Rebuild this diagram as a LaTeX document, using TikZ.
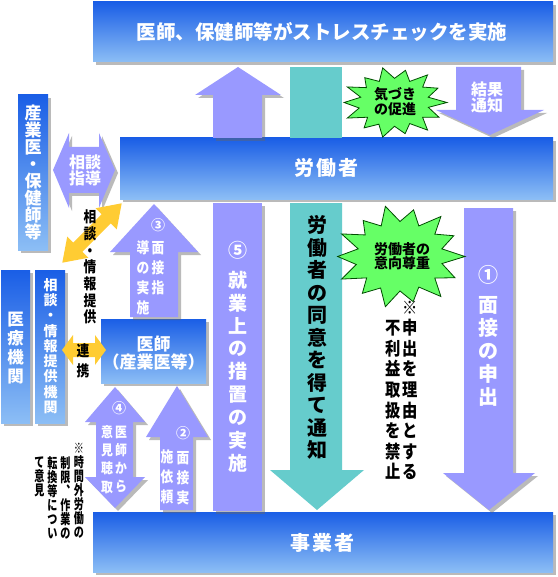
\documentclass[tikz,border=0pt]{standalone}
\usepackage{fontspec}
\newfontfamily\jp{Noto Sans CJK JP}
\newfontfamily\jpn{Noto Sans CJK JP}[FakeStretch=0.85]
\newfontfamily\jpc{Noto Sans CJK JP}[FakeStretch=0.72]
\usetikzlibrary{shadows}
\definecolor{barTop}{HTML}{1A5EE6}
\definecolor{barBot}{HTML}{8CBEF5}
\definecolor{lav}{HTML}{9999FF}
\definecolor{tealx}{HTML}{66CCCC}
\definecolor{burstG}{HTML}{66FF66}
\definecolor{amber}{HTML}{FFCC33}
\newcommand\fsz[2]{\fontsize{#1}{#2}\selectfont}
% vertical block arrow polygon: style, shaft left, shaft right, head left, head right, tip y, head base y, tail y
\newcommand\vpoly[8]{\fill[#1] (#2,#8) -- (#2,#7) -- (#4,#7) -- ({(#4+#5)/2},#6) -- (#5,#7) -- (#3,#7) -- (#3,#8) -- cycle;}
\newcommand\burst[4]{\begin{scope}[shift={(#1,#2)},xscale=#3,yscale=#4]
\draw[burststy] (0:1) -- (12:.66) -- (26:.94) -- (38:.68) -- (51:1) -- (64:.66) -- (77:.9) -- (90:.67) -- (103:1) -- (116:.68) -- (129:.92) -- (141:.66) -- (154:1) -- (167:.69) -- (180:.96) -- (193:.66) -- (206:1) -- (218:.68) -- (231:.9) -- (244:.66) -- (257:1) -- (270:.68) -- (283:.93) -- (296:.66) -- (309:1) -- (321:.69) -- (334:.92) -- (347:.66) -- cycle;
\end{scope}}
\tikzset{
 bluebar/.style={rectangle, inner sep=0pt, top color=barTop, bottom color=barBot,
   drop shadow={shadow xshift=3pt, shadow yshift=-3pt, fill=black!60, opacity=.45}},
 wlab/.style={text=white, inner sep=0pt, align=center},
 klab/.style={text=black, inner sep=0pt, align=center},
 shd/.style={fill=black!60, opacity=.45, xshift=3pt, yshift=-3pt},
 burststy/.style={fill=burstG, draw=black!70!green, line width=0.8pt},
}
\begin{document}
\begin{tikzpicture}[x=1pt,y=-1pt]
\useasboundingbox (0,0) rectangle (557,577);
\fill[white] (0,0) rectangle (557,577);
% bars
\node[bluebar, minimum width=460pt, minimum height=60pt] (topbar) at (323,32) {};
\node[bluebar, minimum width=433pt, minimum height=61pt] (workbar) at (336.5,168.5) {};
\node[bluebar, minimum width=460pt, minimum height=60pt] (empbar) at (323,542) {};
\node[bluebar, minimum width=30pt, minimum height=155pt] (ohbar) at (33,172.5) {};
\node[bluebar, minimum width=29pt, minimum height=153pt] (medbar) at (15.5,346.5) {};
\node[bluebar, minimum width=30pt, minimum height=153pt] (conbar) at (50,346.5) {};
\node[bluebar, minimum width=105pt, minimum height=64pt] (docbox) at (153.5,351) {};
% purple arrows
\vpoly{shd}{213}{262}{195}{281}{67}{95}{138}
\vpoly{lav}{213}{262}{195}{281}{67}{95}{138}
\fill[tealx] (290,67) rectangle (342,138);
\vpoly{shd}{456}{521}{436}{544}{135}{110}{67}
\vpoly{lav}{456}{521}{436}{544}{135}{110}{67}
\vpoly{shd}{130}{178}{110}{198}{204}{252}{317}
\vpoly{lav}{130}{178}{110}{198}{204}{252}{317}
\vpoly{shd}{160}{193}{146}{208}{386}{437}{510}
\vpoly{lav}{160}{193}{146}{208}{386}{437}{510}
\vpoly{shd}{464}{513}{443}{535}{510}{473}{208}
\vpoly{lav}{464}{513}{443}{535}{510}{473}{208}
\vpoly{tealx}{290}{342}{270}{364}{510}{470}{203}
\fill[shd] (213,203) rectangle (262,511);
\fill[lav] (213,203) rectangle (262,511);
% double arrow 4
\fill[shd] (96,422) -- (85,422) -- (115,387) -- (145,422) -- (133,422) -- (133,477) -- (145,477) -- (115,508) -- (85,477) -- (96,477) -- cycle;
\fill[lav] (96,422) -- (85,422) -- (115,387) -- (145,422) -- (133,422) -- (133,477) -- (145,477) -- (115,508) -- (85,477) -- (96,477) -- cycle;
% double arrow soudan shidou
\fill[shd] (53,170) -- (69,133) -- (69,147) -- (99,147) -- (99,133) -- (115,170) -- (99,208) -- (99,193) -- (69,193) -- (69,208) -- cycle;
\fill[lav] (53,170) -- (69,133) -- (69,147) -- (99,147) -- (99,133) -- (115,170) -- (99,208) -- (99,193) -- (69,193) -- (69,208) -- cycle;
% yellow arrows
\begin{scope}[shift={(92,233)},rotate=45]
\fill[amber] (42,0) -- (20,15) -- (20,6.5) -- (-20,6.5) -- (-20,15) -- (-42,0) -- (-20,-15) -- (-20,-6.5) -- (20,-6.5) -- (20,-15) -- cycle;
\end{scope}
\fill[amber] (62,350) -- (73,335) -- (73,343) -- (95,343) -- (95,335) -- (106,350) -- (95,365) -- (95,357) -- (73,357) -- (73,365) -- cycle;
% bursts
\burst{394.5}{102.5}{52.5}{35.5}
\burst{400}{256.5}{65}{51.5}
% texts
\node[wlab, font=\jp\bfseries\fsz{19.5}{20}] (t1) at (322,32) {医師、保健師等がストレスチェックを実施};
\node[wlab, font=\jp\bfseries\fsz{20}{20}] (t2) at (326,168) {労\kern2pt 働\kern2pt 者};
\node[wlab, font=\jp\bfseries\fsz{20}{20}] (t3) at (322,543) {事\kern2pt 業\kern2pt 者};
\node[wlab, font=\jp\bfseries\fsz{17}{17}] (t4) at (33,173) {産\\業\\医\\・\\保\\健\\師\\等};
\node[wlab, font=\jp\bfseries\fsz{16}{16}] (t5) at (85,170) {相談\\指導};
\node[wlab, font=\jp\bfseries\fsz{16.5}{19}] (t6) at (15.5,348.5) {医\\療\\機\\関};
\node[wlab, font=\jp\bfseries\fsz{14}{15.25}] (t7) at (50.5,346) {相\\談\\・\\情\\報\\提\\供\\機\\関};
\node[klab, font=\jpn\bfseries\fsz{15}{16.7}] (t8) at (90,267) {相\\談\\・\\情\\報\\提\\供};
\node[klab, font=\jpn\bfseries\fsz{15}{20}] (t9) at (83,361) {連\\携};
\node[wlab, font=\jp\bfseries\fsz{17}{18}] (t10) at (153.5,353) {医師\\（産業医等）};
\node[wlab, font=\jp\bfseries\fsz{14}{14}] (n3) at (158,225) {③};
\node[wlab, font=\jpn\bfseries\fsz{15}{20}] (t11) at (158,268) {面\\接\\指};
\node[wlab, font=\jpn\bfseries\fsz{15}{20}] (t12) at (143,278) {導\\の\\実\\施};
\node[wlab, font=\jp\bfseries\fsz{14}{14}] (n4) at (119,408) {④};
\node[wlab, font=\jpn\bfseries\fsz{14}{18.3}] (t13) at (121,459.5) {医\\師\\か\\ら};
\node[wlab, font=\jpn\bfseries\fsz{14}{18.3}] (t14) at (107,459.5) {意\\見\\聴\\取};
\node[wlab, font=\jp\bfseries\fsz{14}{14}] (n2) at (183,433) {②};
\node[wlab, font=\jpn\bfseries\fsz{15}{20}] (t15) at (183,478) {面\\接\\実};
\node[wlab, font=\jpn\bfseries\fsz{15}{20}] (t16) at (167,477) {施\\依\\頼};
\node[wlab, font=\jp\bfseries\fsz{19}{19}] (n5) at (237.5,250) {⑤};
\node[wlab, font=\jp\bfseries\fsz{19}{22.9}] (t17) at (238,371.6) {就\\業\\上\\の\\措\\置\\の\\実\\施};
\node[klab, font=\jp\bfseries\fsz{20}{22.5}] (t18) at (317,337.5) {労\\働\\者\\の\\同\\意\\を\\得\\て\\通\\知};
\node[wlab, font=\jp\bfseries\fsz{20}{20}] (n1) at (488,275) {①};
\node[wlab, font=\jp\bfseries\fsz{20}{23}] (t19) at (488,351) {面\\接\\の\\申\\出};
\node[klab, font=\jpn\bfseries\fsz{18}{20.6}] (t20) at (410,390.4) {※\\申\\出\\を\\理\\由\\と\\す\\る};
\node[klab, font=\jpn\bfseries\fsz{18}{20.6}] (t21) at (393,400.1) {不\\利\\益\\取\\扱\\を\\禁\\止};
\node[klab, font=\jpc\bfseries\fsz{14}{14}] (t22) at (79,491) {※\\時\\間\\外\\労\\働\\の};
\node[klab, font=\jpc\bfseries\fsz{14}{14}] (t23) at (65.5,498) {制\\限\\︑\\作\\業\\の};
\node[klab, font=\jpc\bfseries\fsz{14}{14}] (t24) at (52.5,498) {転\\換\\等\\に\\つ\\い};
\node[klab, font=\jpc\bfseries\fsz{14}{14}] (t25) at (39.5,477) {て\\意\\見};
\node[klab, font=\jp\bfseries\fsz{14}{13}] (t26) at (395,101.5) {気づき\\の促進};
\node[klab, font=\jp\bfseries\fsz{14}{12.5}] (t27) at (402,256) {労働者の\\意向尊重};
\node[wlab, font=\jp\bfseries\fsz{16}{14}] (t28) at (487,97) {結果\\通知};
\end{tikzpicture}
\end{document}
